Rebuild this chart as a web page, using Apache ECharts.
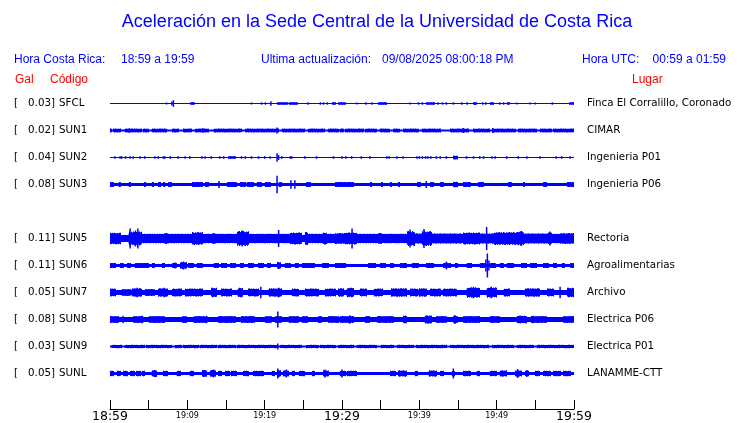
<!DOCTYPE html>
<html><head><meta charset="utf-8">
<script src="https://cdn.jsdelivr.net/npm/echarts@6/dist/echarts.min.js"></script>
<style>html,body{margin:0;padding:0;background:#fff}#c{width:740px;height:423px}</style>
</head><body><div id="c"></div><script>
// ---------------- DATA ----------------
const chartTitle = 'Aceleración en la Sede Central de la Universidad de Costa Rica';
const headerLocal = ['Hora Costa Rica:', '18:59 a 19:59'];
const headerUpdate = ['Ultima actualización:', '09/08/2025 08:00:18 PM'];
const headerUtc = ['Hora UTC:', '00:59 a 01:59'];
const columnHeads = ['Gal', 'Código', 'Lugar'];

const stationCodes = ['SFCL','SUN1','SUN2','SUN3','SUN5','SUN6','SUN7','SUN8','SUN9','SUNL'];
const stationGal = ['0.03','0.02','0.04','0.08','0.11','0.11','0.05','0.08','0.03','0.05'];
const stationPlaces = ['Finca El Corralillo, Coronado','CIMAR','Ingenieria P01','Ingenieria P06','Rectoria','Agroalimentarias','Archivo','Electrica P06','Electrica P01','LANAMME-CTT'];
// background noise half-amplitude and default burst half-amplitude (relative units)
const baseAmp  = [0.5, 1, 0.6, 1.5, 3.6, 1.5, 2.4, 2.4, 1, 1.5];
const blockAmp = [1.3, 2, 1.3, 2.5, 4.8, 2.6, 4, 3.4, 1.7, 2.8];

// bursts: [startMinute, endMinute, (halfAmp)] ; spikes: [minute, halfAmp]
const sfclBlocks = [[10.4,10.9],[21.6,23.0],[23.1,24.3],[28.7,29.2],[29.5,30.5],[34.7,35.8],[40.9,42.0],[47.0,47.4],[49.1,49.6],[51.3,51.7],[59.4,60]];
const sfclSpikes = [[7.3,1],[8.0,2],[8.2,3.3],[18.3,1],[19.6,1.2],[20.1,1.2],[20.8,2.3],[25.6,1.2],[27.2,1.2],[27.6,1.2],[28.1,1.2],[31.9,1],[33.1,1.2],[33.9,1.2],[38.8,1],[39.9,1.2],[40.4,1.2],[42.4,1.2],[43.0,1.2],[43.5,1.2],[44.4,1.2],[45.5,1.2],[46.2,1.2],[48.2,1.2],[48.6,1.2],[50.4,1.2],[50.9,1.2],[52.6,1],[54.3,1],[55.0,1],[57.2,1.2]];

const sun1Blocks = [[0,0.2],[0.4,1.3],[1.9,4.1],[4.3,5.0],[5.4,7.3],[8.0,8.8],[9.5,10.6],[11.0,12.7],[13.4,17.0],[17.5,21.8],[22.2,25.2],[25.6,27.8],[28.2,29.5],[29.7,30.2],[30.4,32.8],[33.0,34.5],[34.9,36.2],[36.6,37.5],[37.9,39.9],[40.3,42.7],[44.0,46.3],[47.0,49.1],[49.4,52.4],[52.8,55.2],[55.6,57.1],[57.3,60]];
const sun1Spikes = [[2.5,2.2],[12.0,2.2],[21.6,3],[45.7,2.5],[49.5,2.6]];

const sun2Blocks = [[15.3,16.2],[44.4,45.0,2]];
const sun2Spikes = [[0.65,1.3],[1.3,1.3],[1.5,1.3],[2.0,1.3],[2.6,1.3],[3.0,1.3],[3.9,1.3],[4.5,1.3],[5.8,1.3],[6.25,1.3],[6.9,1.3],[7.1,1.3],[7.8,1.3],[8.8,1.3],[9.7,1.3],[10.3,1.3],[11.9,1.3],[12.3,1.3],[13.1,1.3],[14.2,1.3],[14.7,1.3],[17.0,1.3],[17.5,1.3],[18.3,1.3],[19.2,1.3],[20.0,1.3],[20.7,1.3],[21.6,4.3],[21.8,2.5],[22.2,1.3],[23.3,1.3],[23.5,1.3],[25.2,1.3],[26.7,1.3],[28.9,1.3],[30.0,1.3],[30.5,1.3],[31.25,1.3],[32.5,1.3],[33.6,1.3],[35.8,1.3],[36.1,1.3],[37.1,1.3],[37.9,1.3],[39.7,1.3],[40.0,1.3],[40.4,1.3],[40.8,1.3],[41.1,1.3],[41.5,1.3],[42.2,1.3],[42.7,1.3],[43.5,1.3],[46.1,1.3],[47.0,1.3],[47.8,1.3],[48.3,1.3],[49.4,1.3],[49.8,1.3],[51.3,1.3],[52.8,1.3],[53.9,1.3],[55.6,1.3],[57.7,1.3],[58.4,1.3],[59.5,1.3]];

const sun3Blocks = [[0,0.4],[1.1,1.4],[2.4,2.7],[4.4,4.6],[5.4,5.6],[6.25,6.5],[6.9,7.1],[7.5,7.9],[10.6,11.9],[12.3,12.7],[15.1,16.4],[16.8,17.5],[17.7,18.5],[19.0,19.6],[20.0,20.7],[21.8,22.2],[25.4,25.9],[29.1,31.5],[33.6,33.8],[35.1,35.3],[36.2,36.4],[37.3,37.5],[39.7,40.1],[41.4,41.8],[42.7,43.1],[44.4,45.0,2.8],[45.7,46.6],[47.6,48.3],[51.5,51.9],[53.4,53.6],[56.0,56.5],[59.1,60]];
const sun3Spikes = [[14.1,3.5],[21.6,8.7],[23.4,4.3],[23.9,4.3],[40.9,3.5]];

const sun5Blocks = [[0,1.3,5.8],[2.4,4.1,7],[4.1,7.0,4.8],[7.0,7.6,5.2],[7.6,10.6,4.8],[10.6,11.9,6.5],[11.9,13.2,4.8],[13.2,13.6,5.2],[13.6,16.4,4.8],[16.4,17.9,7.5],[17.9,23.3,4.8],[23.3,24.8,6],[25.2,25.6,6.5],[25.6,27.6,4.8],[27.6,28.0,6],[28.0,29.1,4.8],[29.1,30.4,5.5],[30.4,31.9,6],[31.9,34.7,4.8],[34.7,35.1,5.5],[35.1,38.4,4.8],[38.4,39.4,7.5],[39.4,40.3,5.2],[40.3,41.6,7.5],[41.6,45.3,5.2],[45.3,45.7,4.8],[45.7,47.8,6],[47.8,49.6,5.2],[49.6,52.6,6.5],[52.6,53.5,7],[53.5,56.7,5.2],[56.7,57.1,6],[57.1,58.2,4.8],[58.2,60,5.5]];
const sun5Spikes = [[2.6,10],[3.3,8],[3.6,10],[7.3,5.5],[13.4,5.5],[17.1,8],[21.8,8.5],[25.4,6.5],[31.3,10],[38.8,9],[40.6,9.5],[48.7,11.5],[53.2,7.5],[56.9,7]];

const sun6Blocks = [[0,0.65],[1.3,1.7],[2.2,2.6],[3.2,5.0],[5.4,5.8],[6.7,7.1],[8.0,8.6],[9.1,9.9,3.5],[10.1,10.8],[11.2,11.9],[13.4,14.0],[14.4,15.1],[15.5,16.2],[16.8,17.2],[17.9,18.5],[19.2,19.8],[20.3,20.7],[21.6,22.0,3.5],[22.6,23.3],[23.9,24.4],[24.8,26.5],[27.4,28.2],[29.1,30.4],[33.4,34.3],[34.9,35.6],[36.2,36.6],[37.5,38.4],[39.0,39.9],[40.9,41.8],[43.1,44.0],[44.6,45.0],[46.1,46.8],[47.8,48.4],[49.1,49.8],[50.4,50.9],[51.3,52.2],[53.2,53.9],[54.3,55.2],[56.0,56.7],[57.3,57.7],[58.4,58.8],[59.5,60]];
const sun6Spikes = [[8.4,3],[9.5,4],[43.5,4],[48.6,6],[48.8,12],[49.0,5]];

const sun7Blocks = [[0,0.65,4],[1.5,2.6,3.4],[2.8,4.1,4.3],[4.5,5.8,3.4],[6.25,7.5,4.3],[8.0,9.3],[9.7,11.9],[13.1,13.8,4.8],[14.4,15.7],[16.5,17.1,4.8],[17.9,19.2],[20.5,22.2,4.3],[23.5,24.4],[25.2,26.9],[27.8,29.1],[29.5,30.2,4.3],[30.6,31.5,4.8],[32.3,33.2],[34.1,35.3],[36.4,38.4,4.3],[38.8,39.7],[39.9,40.9,4.3],[41.4,42.7],[43.1,44.8],[46.1,47.8,5.2],[48.7,50.0,5.2],[50.9,51.7],[53.7,55.6,4.3],[56.5,57.3],[59.1,60,4.8]];
const sun7Spikes = [[3.5,4.8],[7.0,4.8],[19.5,5.8],[21.8,4.8],[47.0,5.8],[49.3,5.8],[58.2,5.8]];

const sun8Blocks = [[0,1.1],[3.0,4.1],[5.0,7.1],[9.3,9.9],[10.8,12.3],[14.0,16.2],[17.0,18.75],[20.0,20.9],[21.3,22.2],[23.1,24.4],[24.8,25.6],[26.9,27.4],[28.2,29.5],[29.7,31.5],[33.0,33.6],[34.5,36.6],[37.9,38.4,3.8],[40.7,41.6,4.2],[42.2,43.5],[44.4,45.0],[45.7,47.8],[49.1,50.4],[52.6,53.9,3.8],[54.5,56.5],[58.6,60]];
const sun8Spikes = [[1.7,3.7],[4.2,3.7],[12.5,3.7],[21.7,8],[31.0,4.2],[38.2,3.8],[44.6,4.6],[53.0,3.8],[54.7,3.7]];

const sun9Blocks = [[0.2,1.5],[1.9,4.5],[4.7,8.0],[8.4,9.3],[9.5,11.4],[11.6,13.8],[14.0,16.2],[16.4,21.6],[22.0,24.8],[25.4,26.9],[27.2,29.1],[29.5,31.5],[31.9,34.5],[35.1,36.6],[37.1,39.2],[39.6,43.5],[44.0,48.9],[49.4,52.2],[52.6,54.7],[55.2,60]];
const sun9Spikes = [[21.7,3]];

const sunlBlocks = [[0,0.4],[0.9,1.3],[1.7,2.2],[2.6,3.2],[3.4,3.9],[4.1,4.5],[5.4,6.0,3.5],[6.9,7.5],[8.6,9.1],[10.3,10.8],[11.9,12.5,3.5],[12.9,13.6,3.5],[14.0,14.4],[14.9,15.5],[15.7,16.4],[17.2,17.9],[18.5,19.8],[20.9,21.3],[21.6,22.0,3.5],[22.4,23.1,3.2],[23.5,23.9],[24.4,25.2],[26.1,26.5],[27.6,28.2,3.2],[29.7,30.4],[30.6,31.9],[36.2,36.9],[37.3,38.4,3.2],[39.4,39.7],[41.2,42.2,3.2],[42.7,43.1],[44.2,44.6],[45.7,46.6],[47.4,47.8],[49.1,50.0],[50.4,51.3,3.2],[52.4,53.2,3.2],[53.7,54.1],[55.0,55.6],[56.0,56.9],[57.3,58.2],[58.6,59.5]];
const sunlSpikes = [[5.8,3.5],[12.2,3.5],[13.4,4],[21.7,5],[22.8,4],[27.8,4],[30.0,4],[44.4,5],[52.7,4.5],[53.9,3.5]];

const stationBlocks = [sfclBlocks, sun1Blocks, sun2Blocks, sun3Blocks, sun5Blocks, sun6Blocks, sun7Blocks, sun8Blocks, sun9Blocks, sunlBlocks];
const stationSpikes = [sfclSpikes, sun1Spikes, sun2Spikes, sun3Spikes, sun5Spikes, sun6Spikes, sun7Spikes, sun8Spikes, sun9Spikes, sunlSpikes];

// time axis (minutes after 18:59)
const majorTickMinutes = [0, 30, 60];
const majorTickLabels = ['18:59', '19:29', '19:59'];
const minorTickMinutes = [10, 20, 40, 50];
const minorTickLabels = ['19:09', '19:19', '19:39', '19:49'];

// ---------------- LAYOUT ----------------
const BLUE = '#0000ff', RED = '#ff0000', BLACK = '#000000';
const SANS = '"Liberation Sans", Arial, sans-serif';
const DJ = '"DejaVu Sans", sans-serif';
const PLOT_L = 110, PLOT_W = 464;
const ROW0 = 103.5, ROW_H = 27;
const slotOf = [0,1,2,3,5,6,7,8,9,10];
const HAIR_PATTERN = [1, 0.55, 0.85, 0.4, 0.95, 0.65, 0.3, 0.75, 0.5, 0.9];

function renderEvent(params, api) {
  const s = api.value(0), e = api.value(1), a = api.value(2), kind = api.value(3), base = api.value(4);
  const p0 = api.coord([s, a]);
  const p1 = api.coord([e, -a]);
  if (kind === 0) { // continuous background band
    return { type: 'rect', shape: { x: p0[0], y: p0[1], width: p1[0] - p0[0], height: p1[1] - p0[1] }, style: { fill: BLUE } };
  }
  if (kind === 2) { // single spike
    return { type: 'rect', shape: { x: p0[0] - 0.75, y: p0[1], width: 1.5, height: p1[1] - p0[1] }, style: { fill: BLUE } };
  }
  // burst: solid core plus hair-like fringe up to the burst amplitude
  const mid = api.coord([s, 0])[1];
  const ppu = (mid - p0[1]) / a;
  const core = base + (a - base) * 0.5;
  const coreH = core * ppu;
  const fringe = (a - core) * ppu;
  const children = [{ type: 'rect', shape: { x: p0[0], y: mid - coreH, width: Math.max(p1[0] - p0[0], 1), height: 2 * coreH }, style: { fill: BLUE } }];
  const n = HAIR_PATTERN.length;
  let k = Math.round(p0[0] * 7) % n;
  for (let x = Math.round(p0[0]); x < p1[0]; x += 1, k++) {
    const h = coreH + fringe * HAIR_PATTERN[k % n];
    const h2 = coreH + fringe * HAIR_PATTERN[(k + 4) % n];
    children.push({ type: 'rect', shape: { x: x, y: mid - h, width: 1, height: h + h2 }, style: { fill: BLUE } });
  }
  return { type: 'group', children: children };
}

const grids = [], xAxes = [], yAxes = [], series = [], graphics = [];
function txt(text, x, y, font, fill, align) {
  graphics.push({ type: 'text', silent: true,
    style: { text: text, x: x, y: y, font: font, fill: fill, textAlign: align || 'left', textVerticalAlign: 'middle' } });
}
const LBL = '10.3px ' + DJ;

stationCodes.forEach((code, i) => {
  const cy = ROW0 + ROW_H * slotOf[i];
  grids.push({ left: PLOT_L, width: PLOT_W, top: cy - ROW_H / 2, height: ROW_H, outerBoundsMode: 'none' });
  xAxes.push({ type: 'value', gridIndex: i, min: 0, max: 60, show: false });
  yAxes.push({ type: 'value', gridIndex: i, min: -ROW_H / 2, max: ROW_H / 2, show: false });
  const b0 = baseAmp[i];
  const evs = [[0, 60, b0, 0, b0]];
  stationBlocks[i].forEach(b => evs.push([b[0], b[1], b.length > 2 ? b[2] : blockAmp[i], 1, b0]));
  stationSpikes[i].forEach(s => evs.push([s[0], s[0], s[1], 2, b0]));
  series.push({ type: 'custom', xAxisIndex: i, yAxisIndex: i, data: evs, renderItem: renderEvent,
                encode: { x: [0, 1], y: 2 }, silent: true, animation: false, clip: false });
  txt('[', 14, cy, LBL, BLACK);
  txt(stationGal[i] + ']', 55, cy, LBL, BLACK, 'right');
  txt(code, 59, cy, LBL, BLACK);
  txt(stationPlaces[i], 587, cy, LBL, BLACK);
});

// time axis grid
const AX = stationCodes.length;
grids.push({ left: PLOT_L, width: PLOT_W, top: 380, height: 29, outerBoundsMode: 'none' });
yAxes.push({ type: 'value', gridIndex: AX, min: 0, max: 1, show: false });
xAxes.push({ type: 'value', gridIndex: AX, min: 0, max: 60, interval: 5, position: 'bottom',
  axisLine: { show: true, lineStyle: { color: BLACK, width: 1 } },
  axisTick: { show: true, inside: true, length: 9, lineStyle: { color: BLACK, width: 1 } },
  splitLine: { show: false },
  axisLabel: { margin: 1, color: BLACK, fontFamily: DJ, fontSize: 12.5, showMinLabel: true, showMaxLabel: true,
    formatter: v => { const k = majorTickMinutes.indexOf(v); return k >= 0 ? majorTickLabels[k] : ''; } } });
xAxes.push({ type: 'value', gridIndex: AX, min: 0, max: 60, interval: 5, position: 'bottom',
  axisLine: { show: false }, axisTick: { show: false }, splitLine: { show: false },
  axisLabel: { margin: 3, color: BLACK, fontFamily: DJ, fontSize: 8, showMinLabel: true, showMaxLabel: true,
    formatter: v => { const k = minorTickMinutes.indexOf(v); return k >= 0 ? minorTickLabels[k] : ''; } } });

// header texts
txt(chartTitle, 377, 22, '18px ' + SANS, BLUE, 'center');
txt(headerLocal[0], 14, 60, '12px ' + SANS, BLUE);
txt(headerLocal[1], 121, 60, '12px ' + SANS, BLUE);
txt(headerUpdate[0], 261, 60, '12px ' + SANS, BLUE);
txt(headerUpdate[1], 382, 60, '12px ' + SANS, BLUE);
txt(headerUtc[0], 582, 60, '12px ' + SANS, BLUE);
txt(headerUtc[1], 726, 60, '12px ' + SANS, BLUE, 'right');
txt(columnHeads[0], 15, 80, '12px ' + SANS, RED);
txt(columnHeads[1], 50, 80, '12px ' + SANS, RED);
txt(columnHeads[2], 632, 80, '12px ' + SANS, RED);

const chart = echarts.init(document.getElementById('c'));
chart.setOption({
  animation: false,
  backgroundColor: '#ffffff',
  grid: grids, xAxis: xAxes, yAxis: yAxes, series: series,
  graphic: { elements: graphics }
});
</script></body></html>
